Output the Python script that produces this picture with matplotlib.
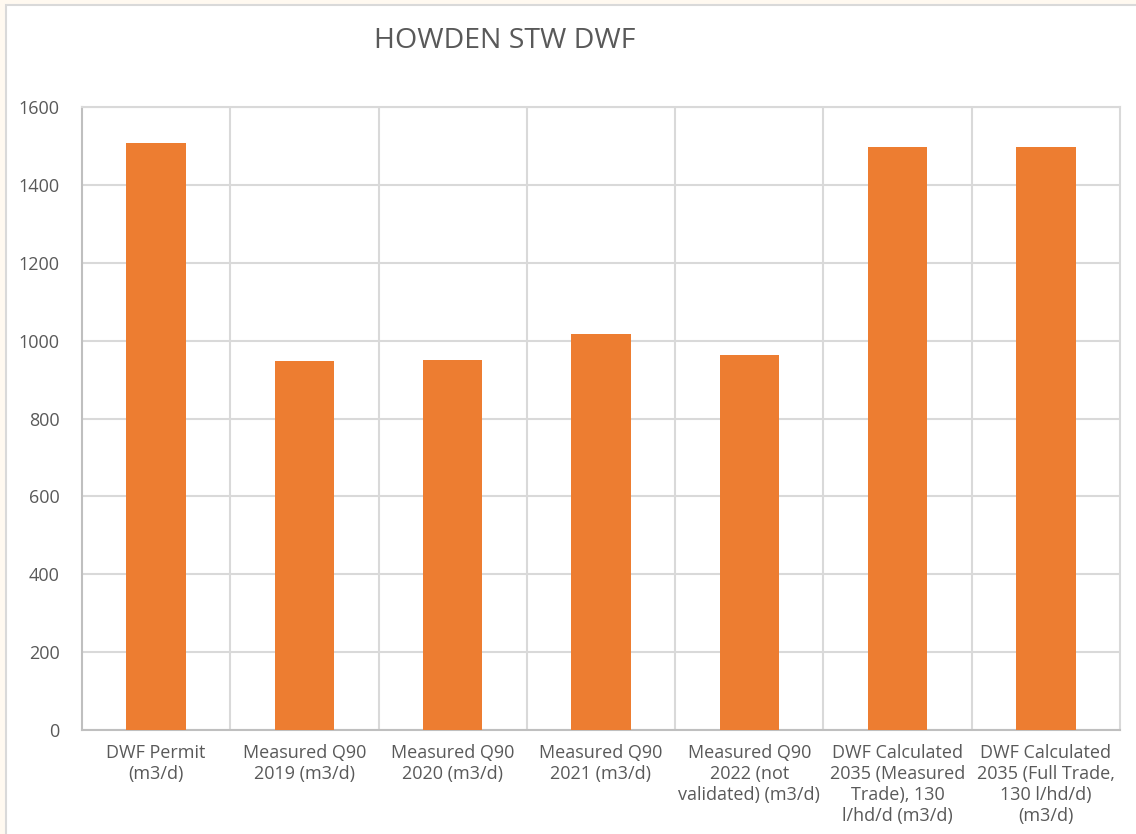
import matplotlib
matplotlib.use("Agg")
import matplotlib.pyplot as plt
from matplotlib.patches import Rectangle

plt.rcParams['font.family'] = ['Open Sans', 'DejaVu Sans']

categories = ["DWF Permit\n(m3/d)",
              "Measured Q90\n2019 (m3/d)",
              "Measured Q90\n2020 (m3/d)",
              "Measured Q90\n2021 (m3/d)",
              "Measured Q90\n2022 (not\nvalidated) (m3/d)",
              "DWF Calculated\n2035 (Measured\nTrade), 130\nl/hd/d (m3/d)",
              "DWF Calculated\n2035 (Full Trade,\n130 l/hd/d)\n(m3/d)"]
values = [1508, 947, 950, 1017, 964, 1497, 1499]
yticks = [0, 200, 400, 600, 800, 1000, 1200, 1400, 1600]

grid_c = "#D9D9D9"
text_c = "#595959"

fig = plt.figure(figsize=(11.36, 8.34), dpi=100)
fig.patch.set_facecolor("#FFF9F0")
# white chart area with grey border
fig.patches.append(Rectangle((6/1136, -0.1), 1.2, 1 - 5/834 + 0.1,
                             transform=fig.transFigure, facecolor="white",
                             edgecolor=grid_c, linewidth=1.5, zorder=-10))

ax = fig.add_axes([82/1136, 1 - 730/834, (1120 - 82)/1136, (730 - 107.3)/834])
ax.set_facecolor("white")
x = range(len(values))
ax.bar(x, values, width=0.4, color="#ED7D31", zorder=3)

ax.set_xlim(-0.5, len(values) - 0.5)
ax.set_ylim(0, 1600)
ax.set_yticks(yticks)
ax.set_xticks(list(x))
ax.set_xticklabels(categories, linespacing=1.22)
ax.tick_params(axis="both", length=0, colors=text_c, labelsize=13)
ax.tick_params(axis="y", pad=16)
ax.tick_params(axis="x", pad=10)

ax.yaxis.grid(True, color=grid_c, linewidth=1.5, zorder=0)
ax.set_axisbelow(True)
for b in [i + 0.5 for i in range(len(values) - 1)]:
    ax.axvline(b, color=grid_c, linewidth=1.5, zorder=0)
for s in ax.spines.values():
    s.set_color(grid_c)
    s.set_linewidth(1.5)
ax.spines["left"].set_color("#BFBFBF")
ax.spines["bottom"].set_color("#BFBFBF")

fig.text(505/1136, 1 - 41/834, "HOWDEN STW DWF", ha="center", va="center",
         fontsize=20.5, color=text_c)

fig.savefig("out.png", dpi=100, facecolor=fig.get_facecolor())
